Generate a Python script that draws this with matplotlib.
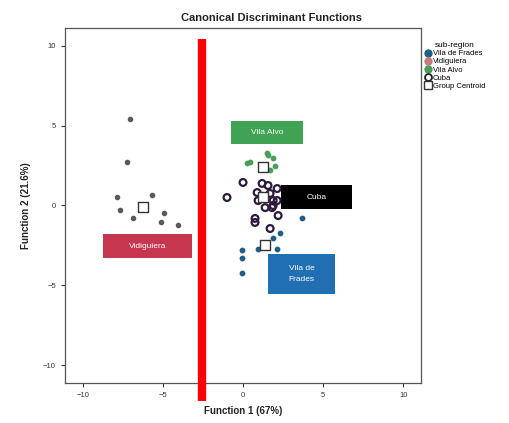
import matplotlib
matplotlib.use("Agg")
import matplotlib.pyplot as plt
from matplotlib.lines import Line2D
from matplotlib.patches import Rectangle

plt.rcParams['font.family'] = ['Liberation Sans', 'DejaVu Sans']

# discriminant scores per sub-region
vila_frades_x = [2.31, -0.06, -0.06, 0.94, 2.13, -0.06, 3.69, 1.88]
vila_frades_y = [-1.69, -2.81, -3.31, -2.69, -2.69, -4.25, -0.81, -2.06]

vidigueira_x = [-7.06, -7.25, -7.88, -5.69, -7.69, -6.88, -4.94, -5.13, -4.06]
vidigueira_y = [5.44, 2.69, 0.56, 0.63, -0.31, -0.81, -0.5, -1.06, -1.25]

vila_alvo_x = [0.25, 0.44, 1.5, 1.56, 1.88, 2.0, 1.69]
vila_alvo_y = [2.63, 2.69, 3.31, 3.13, 2.94, 2.5, 2.19]

cuba_x = [0.0, -1.0, 1.19, 1.56, 2.13, 0.88, 1.69, 0.94, 1.88, 2.13, 1.88,
          1.38, 1.81, 0.75, 2.19, 1.69, 0.75]
cuba_y = [1.44, 0.5, 1.38, 1.25, 1.06, 0.81, 0.75, 0.31, 0.31, 0.31, 0.0,
          -0.13, -0.13, -0.81, -0.63, -1.44, -1.06]

centroid_x = [1.38, -6.25, 1.25, 1.25]
centroid_y = [-2.5, -0.12, 2.38, 0.5]

region_names = ["Vila de Frades", "Vidiguiera", "Vila Alvo", "Cuba"]

# coloured name boxes (centre, width, height in data units)
label_names = ["Vila de\nFrades", "Vidiguiera", "Vila Alvo", "Cuba"]
label_x = [3.66, -5.97, 1.5, 4.59]
label_y = [-4.28, -2.56, 4.59, 0.53]
label_w = [4.2, 5.55, 4.5, 4.45]
label_h = [2.45, 1.5, 1.45, 1.45]
label_colors = ["#1f6fb2", "#c6374f", "#3fa353", "#000000"]

ticks = [-10, -5, 0, 5, 10]
cut_x = -2.56

fig = plt.figure(figsize=(5.1, 4.23), dpi=100)
ax = fig.add_axes([0.1275, 0.0946, 0.698, 0.8392])

ax.scatter(vila_frades_x, vila_frades_y, s=10, color="#1d5f86", zorder=3)
ax.scatter(vidigueira_x, vidigueira_y, s=9, color="#5a5a5a", zorder=3)
ax.scatter(vila_alvo_x, vila_alvo_y, s=10, color="#4a9d5a", zorder=3)
ax.scatter(cuba_x, cuba_y, s=24, facecolors="none", edgecolors="#2e1a3c",
           linewidths=1.6, zorder=3)
ax.scatter(centroid_x, centroid_y, s=55, marker="s", facecolors="white",
           edgecolors="#333333", linewidths=1.0, zorder=4)

for name, x, y, w, h, c in zip(label_names, label_x, label_y, label_w,
                               label_h, label_colors):
    ax.add_patch(Rectangle((x - w / 2, y - h / 2), w, h, facecolor=c,
                           edgecolor="none", zorder=5))
    ax.text(x, y, name, color="white", fontsize=6, ha="center", va="center",
            linespacing=1.7, zorder=6)

ax.plot([cut_x, cut_x], [10.4, -12.25], color="#ff0000", linewidth=6,
        clip_on=False, zorder=7, solid_capstyle="butt")

ax.set_xlim(-11.1, 11.1)
ax.set_ylim(-11.1, 11.1)
ax.set_xticks(ticks)
ax.set_yticks(ticks)
ax.tick_params(direction="out", length=3, width=0.8, labelsize=5.5,
               colors="#333333", top=False, right=False)
for sp in ax.spines.values():
    sp.set_color("#555555")
    sp.set_linewidth(0.9)

ax.set_xlabel("Function 1 (67%)", fontsize=7, fontweight="bold", color="#222222",
              labelpad=5)
ax.set_ylabel("Function 2 (21.6%)", fontsize=7, fontweight="bold", color="#222222",
              labelpad=9)
fig.text(0.533, 0.958, "Canonical Discriminant Functions", fontsize=8,
         fontweight="bold", ha="center", va="center", color="#222222")

handles = [
    Line2D([], [], marker="o", ls="", color="#1d5f86", markersize=5),
    Line2D([], [], marker="o", ls="", color="#c87a7a", markersize=5),
    Line2D([], [], marker="o", ls="", color="#4a9d5a", markersize=5),
    Line2D([], [], marker="o", ls="", markerfacecolor="none",
           markeredgecolor="#222222", markeredgewidth=1.3, markersize=5),
    Line2D([], [], marker="s", ls="", markerfacecolor="white",
           markeredgecolor="#333333", markersize=5.5),
]
leg = ax.legend(handles, region_names + ["Group Centroid"], title="sub-region",
                loc="upper left", bbox_to_anchor=(0.995, 0.975), frameon=False,
                fontsize=5.5, title_fontsize=6, handletextpad=0.15,
                labelspacing=0.1, borderaxespad=0.3, handlelength=0.9)

fig.savefig("out.png", dpi=100)
